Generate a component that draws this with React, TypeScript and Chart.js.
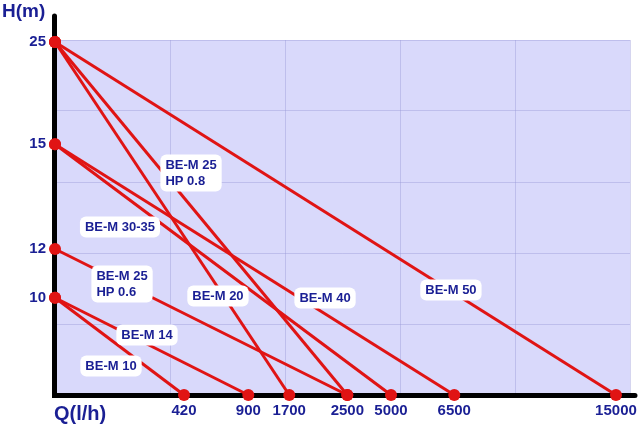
import React, { useEffect, useRef } from "react";
import { Chart, registerables } from "chart.js";

Chart.register(...registerables);

// Flow axis (Q, l/h): tick values and their place on the chart's 0–5 grid scale
const qTicks = [420, 900, 1700, 2500, 5000, 6500, 15000];
const qTickPos = [1.122, 1.681, 2.037, 2.542, 2.922, 3.472, 4.878];

// Head axis (H, m): tick values and their place on the 0–5 grid scale
const hTicks = [10, 12, 15, 25];
const hTickPos = [1.37, 2.056, 3.531, 4.972];

// Pump models: max head (at Q = 0) and max flow (at H = 0)
const models = [
  "BE-M 50",
  "BE-M 40",
  "BE-M 30-35",
  "BE-M 25 HP 0.8",
  "BE-M 20",
  "BE-M 25 HP 0.6",
  "BE-M 14",
  "BE-M 10",
];
const maxHead = [25, 15, 15, 25, 25, 12, 10, 10];
const maxFlow = [15000, 6500, 5000, 2500, 1700, 2500, 900, 420];

// Label text lines and label anchor (grid units)
const labelLines = [
  ["BE-M 50"],
  ["BE-M 40"],
  ["BE-M 30-35"],
  ["BE-M 25", "HP 0.8"],
  ["BE-M 20"],
  ["BE-M 25", "HP 0.6"],
  ["BE-M 14"],
  ["BE-M 10"],
];
const labelAtX = [3.443, 2.348, 0.565, 1.183, 1.417, 0.583, 0.8, 0.487];
const labelAtY = [1.479, 1.366, 2.366, 3.127, 1.394, 1.563, 0.845, 0.408];

const qPos = (q: number) => (q === 0 ? 0 : qTickPos[qTicks.indexOf(q)]);
const hPos = (h: number) => (h === 0 ? 0 : hTickPos[hTicks.indexOf(h)]);

const NAVY = "#1a1f94";
const RED = "#e01414";
const FONT = "'Liberation Sans', Arial, sans-serif";

export default function App() {
  const ref = useRef<HTMLCanvasElement | null>(null);

  useEffect(() => {
    document.body.style.margin = "0";
    const canvas = ref.current;
    if (!canvas) return;

    const decor = {
      id: "decor",
      beforeDraw(chart: any) {
        const { ctx, chartArea: a } = chart;
        ctx.save();
        ctx.fillStyle = "#ffffff";
        ctx.fillRect(0, 0, chart.width, chart.height);
        ctx.fillStyle = "#d9d9fb";
        ctx.fillRect(a.left, a.top, a.right - a.left, a.bottom - a.top);
        ctx.restore();
      },
      beforeDatasetsDraw(chart: any) {
        const { ctx, chartArea: a } = chart;
        ctx.save();
        ctx.strokeStyle = "#000000";
        ctx.lineWidth = 5;
        ctx.lineCap = "round";
        ctx.beginPath();
        ctx.moveTo(a.left - 0.5, 16);
        ctx.lineTo(a.left - 0.5, a.bottom + 0.5);
        ctx.lineTo(a.right + 5, a.bottom + 0.5);
        ctx.stroke();
        ctx.restore();
      },
      afterDatasetsDraw(chart: any) {
        const { ctx } = chart;
        const xs = chart.scales.x;
        const ys = chart.scales.y;
        ctx.save();
        ctx.font = `bold 13px ${FONT}`;
        ctx.textBaseline = "middle";
        ctx.textAlign = "left";
        const lh = 16;
        labelLines.forEach((lines, i) => {
          const cx = xs.getPixelForValue(labelAtX[i]);
          const cy = ys.getPixelForValue(labelAtY[i]);
          const w = Math.max(...lines.map((l) => ctx.measureText(l).width));
          const h = lines.length * lh;
          const bw = w + 10;
          const bh = h + 5;
          const bx = cx - bw / 2;
          const by = cy - bh / 2;
          ctx.fillStyle = "#ffffff";
          ctx.beginPath();
          (ctx as any).roundRect(bx, by, bw, bh, 6);
          ctx.fill();
          ctx.fillStyle = NAVY;
          lines.forEach((l, k) => {
            ctx.fillText(l, cx - w / 2, cy - h / 2 + lh / 2 + k * lh + 0.5);
          });
        });
        ctx.font = `bold 19px ${FONT}`;
        ctx.textAlign = "left";
        ctx.fillStyle = NAVY;
        ctx.fillText("H(m)", 2, 12);
        ctx.font = `bold 20px ${FONT}`;
        ctx.fillText("Q(l/h)", 54, 414);
        ctx.restore();
      },
    };

    const datasets = models.map((m, i) => ({
      label: m,
      data: [
        { x: 0, y: hPos(maxHead[i]) },
        { x: qPos(maxFlow[i]), y: 0 },
      ],
      borderColor: RED,
      borderWidth: 3,
      pointRadius: 6,
      pointBackgroundColor: RED,
      pointBorderWidth: 0,
      pointHoverRadius: 6,
      clip: false as any,
    }));

    const tickFont = { family: FONT, size: 15, weight: "bold" as const };

    const chart = new Chart(canvas, {
      type: "line",
      data: { datasets },
      plugins: [decor],
      options: {
        responsive: false,
        animation: false,
        devicePixelRatio: 1,
        layout: { padding: { top: 40, right: 10, left: 0, bottom: 0 } },
        plugins: { legend: { display: false }, tooltip: { enabled: false } },
        scales: {
          x: {
            type: "linear",
            position: "bottom",
            min: 0,
            max: 5,
            ticks: { display: false, stepSize: 1 },
            grid: { color: "rgba(150,150,215,0.4)", drawTicks: false, lineWidth: 1 },
            border: { display: false },
            afterFit: (s: any) => {
              s.height = 0;
              s.paddingLeft = 0;
              s.paddingRight = 0;
            },
          },
          xq: {
            type: "linear",
            position: "bottom",
            min: 0,
            max: 5,
            grid: { display: false, drawTicks: false },
            border: { display: false },
            afterBuildTicks: (s: any) => {
              s.ticks = qTickPos.map((v) => ({ value: v }));
            },
            ticks: {
              autoSkip: false,
              maxRotation: 0,
              padding: 7,
              color: NAVY,
              font: tickFont,
              callback: (_v: any, i: number) => String(qTicks[i]),
            },
            afterFit: (s: any) => {
              s.height = 31;
              s.paddingLeft = 0;
              s.paddingRight = 0;
            },
          },
          y: {
            type: "linear",
            position: "left",
            min: 0,
            max: 5,
            ticks: { display: false, stepSize: 1 },
            grid: { color: "rgba(150,150,215,0.4)", drawTicks: false, lineWidth: 1 },
            border: { display: false },
            afterFit: (s: any) => {
              s.width = 0;
              s.paddingTop = 0;
              s.paddingBottom = 0;
            },
          },
          yq: {
            type: "linear",
            position: "left",
            min: 0,
            max: 5,
            grid: { display: false, drawTicks: false },
            border: { display: false },
            afterBuildTicks: (s: any) => {
              s.ticks = hTickPos.map((v) => ({ value: v }));
            },
            ticks: {
              autoSkip: false,
              padding: 9,
              color: NAVY,
              font: tickFont,
              callback: (_v: any, i: number) => String(hTicks[i]),
            },
            afterFit: (s: any) => {
              s.width = 55;
              s.paddingTop = 0;
              s.paddingBottom = 0;
            },
          },
        },
      } as any,
    });

    return () => chart.destroy();
  }, []);

  return (
    <div style={{ width: 640, height: 426 }}>
      <canvas ref={ref} width={640} height={426} />
    </div>
  );
}
